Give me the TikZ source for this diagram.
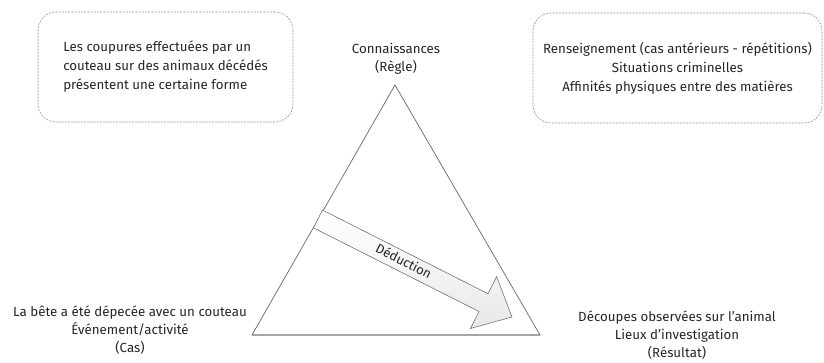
\documentclass[tikz,border=0pt]{standalone}
\usepackage{fontspec}
\setmainfont{Fira Sans}
\begin{document}
\begin{tikzpicture}[x=1pt,y=-1pt,
  lbl/.style={align=center,font=\fontsize{13.3}{18}\selectfont,text=black!85,inner sep=0pt},
  infobox/.style={draw=gray!85,dash pattern=on 2pt off 1.2pt,rounded corners=18pt,line width=0.6pt,font=\fontsize{13.3}{19}\selectfont,text=black!85},
  side/.style={draw=black!60,line width=0.7pt},
  base/.style={draw=gray!70,line width=1.6pt},
  arrowshape/.style={draw=black!55,line width=0.6pt,top color=white,bottom color=gray!18}]
\useasboundingbox (0,0) rectangle (824,363);
% info boxes
\node[infobox,minimum width=255pt,minimum height=110pt,align=left] (boxL) at (165.5,67) {Les coupures effectuées par un\\couteau sur des animaux décédés\\présentent une certaine forme};
\node[infobox,minimum width=289pt,minimum height=110pt,align=center,inner sep=1pt] (boxR) at (677.5,68) {Renseignement (cas antérieurs - répétitions)\\Situations criminelles\\Affinités physiques entre des matières};
% triangle
\coordinate (apex) at (395,85);
\coordinate (bl) at (252,335);
\coordinate (br) at (540,335);
\draw[base] (bl) -- (br);
\draw[side] (bl) -- (apex) -- (br);
% arrow
\shadedraw[arrowshape] (322.5,210.1) -- (488,293.7) -- (496.6,276.7) -- (512,317) -- (470.4,328.5) -- (479,311.5) -- (313.5,227.9) -- cycle;
\node[lbl,rotate=-26.8,font=\fontsize{13}{15}\selectfont] (ded) at (404,261) {Déduction};
% labels
\node[lbl] (conn) at (396,59) {Connaissances\\(Règle)};
\node[lbl] (cas) at (130,330) {La bête a été dépecée avec un couteau\\Événement/activité\\(Cas)};
\node[lbl] (res) at (677,335) {Découpes observées sur l’animal\\Lieux d’investigation\\(Résultat)};
\end{tikzpicture}
\end{document}
